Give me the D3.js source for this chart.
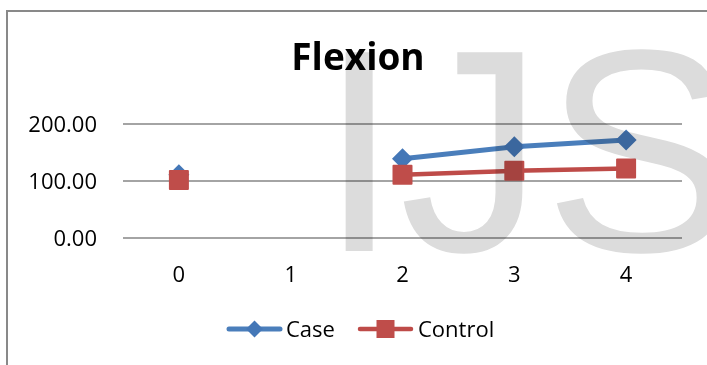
<!DOCTYPE html>
<html>
<head>
<meta charset="utf-8">
<script src="https://cdn.jsdelivr.net/npm/d3@7"></script>
<style>
  html, body { margin: 0; padding: 0; background: #fff; }
  svg { display: block; }
</style>
</head>
<body>
<svg id="chart" width="707" height="365"></svg>
<script>
// Flexion measurements per time point
const categories = ["0", "1", "2", "3", "4"];
const caseValues = [110, null, 138, 159, 171];
const controlValues = [101, null, 110, 117, 121];
const yTicks = [0, 100, 200];
const seriesNames = ["Case", "Control"];
const titleText = "Flexion";

const W = 707, H = 365;
const svg = d3.select("#chart");
const font = "'Open Sans', 'Liberation Sans', sans-serif";

const plot = { left: 123, right: 682, top: 123.5, bottom: 237.5 };

const x = d3.scaleBand().domain(categories).range([plot.left, plot.right]);
const y = d3.scaleLinear().domain([0, 200]).range([plot.bottom, plot.top]);
const cx = c => x(c) + x.bandwidth() / 2;

// outer chart frame
svg.append("rect")
  .attr("x", 7).attr("y", 11)
  .attr("width", W + 20).attr("height", H + 20)
  .attr("fill", "#fff").attr("stroke", "#898989").attr("stroke-width", 2);

// title
svg.append("text")
  .attr("x", 358).attr("y", 69.5)
  .attr("text-anchor", "middle")
  .attr("font-family", font).attr("font-weight", 700)
  .attr("font-size", 37).attr("fill", "#000")
  .text(titleText);

// gridlines + y labels
const yAxis = d3.axisLeft(y).tickValues(yTicks)
  .tickSize(-(plot.right - plot.left))
  .tickPadding(26)
  .tickFormat(d3.format(".2f"));
const gy = svg.append("g").attr("transform", `translate(${plot.left},0)`).call(yAxis);
gy.select(".domain").remove();
gy.selectAll(".tick line").attr("stroke", "#868686").attr("stroke-width", 1.6);
gy.selectAll(".tick text")
  .attr("font-family", font).attr("font-size", 22).attr("fill", "#000")
  .attr("dy", "0.36em");

// category labels
const xAxis = d3.axisBottom(x).tickSize(0).tickPadding(0);
const gx = svg.append("g").attr("transform", `translate(0,${plot.bottom})`).call(xAxis);
gx.select(".domain").remove();
gx.selectAll(".tick text")
  .attr("font-family", font).attr("font-size", 22).attr("fill", "#000")
  .attr("dy", 0).attr("y", 44);

const series = [
  { name: seriesNames[0], values: caseValues, line: "#4A7EBB", fill: "#4477B7", shape: "diamond", width: 5 },
  { name: seriesNames[1], values: controlValues, line: "#BE4B48", fill: "#BF4D4A", shape: "square", width: 4.5 }
];

const line = d3.line()
  .defined(d => d.v !== null)
  .x(d => cx(d.c))
  .y(d => y(d.v));

function marker(g, shape, fill) {
  if (shape === "diamond") {
    g.append("path").attr("d", "M0,-10.5L10.5,0L0,10.5L-10.5,0Z").attr("fill", fill);
  } else {
    g.append("rect").attr("x", -10).attr("y", -10).attr("width", 20).attr("height", 20)
      .attr("rx", 1).attr("fill", fill);
  }
}

series.forEach(s => {
  const pts = categories.map((c, i) => ({ c, v: s.values[i] }));
  svg.append("path")
    .attr("d", line(pts))
    .attr("fill", "none").attr("stroke", s.line)
    .attr("stroke-width", s.width).attr("stroke-linejoin", "round");
  pts.filter(p => p.v !== null).forEach(p => {
    const g = svg.append("g").attr("transform", `translate(${cx(p.c)},${y(p.v)})`);
    marker(g, s.shape, s.fill);
  });
});

// legend
const legendY = 329;
const legendItems = [
  { s: series[0], x0: 229, x1: 280, tx: 286 },
  { s: series[1], x0: 360, x1: 411, tx: 418 }
];
legendItems.forEach(it => {
  svg.append("line")
    .attr("x1", it.x0).attr("x2", it.x1).attr("y1", legendY).attr("y2", legendY)
    .attr("stroke", it.s.line).attr("stroke-width", it.s.width).attr("stroke-linecap", "round");
  const g = svg.append("g").attr("transform", `translate(${(it.x0 + it.x1) / 2},${legendY})`);
  if (it.s.shape === "diamond") {
    g.append("path").attr("d", "M0,-8.5L8.5,0L0,8.5L-8.5,0Z").attr("fill", it.s.fill);
  } else {
    g.append("rect").attr("x", -9).attr("y", -9).attr("width", 18).attr("height", 18).attr("fill", it.s.fill);
  }
  svg.append("text")
    .attr("x", it.tx).attr("y", 337)
    .attr("font-family", font).attr("font-size", 22).attr("fill", "#000")
    .text(it.s.name);
});

// publisher watermark laid over the chart
svg.append("text")
  .attr("x", 319).attr("y", 251)
  .attr("font-family", "'Liberation Sans', Arial, sans-serif")
  .attr("font-size", 289)
  .attr("fill", "#dcdcdc")
  .style("mix-blend-mode", "multiply")
  .text("IJS");
</script>
</body>
</html>
